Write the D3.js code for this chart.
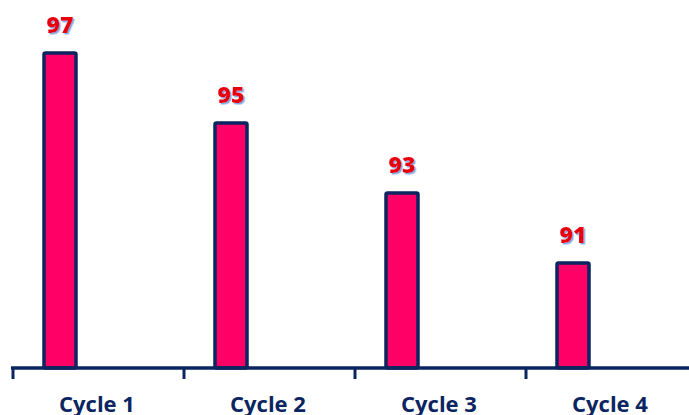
<!DOCTYPE html>
<html>
<head>
<meta charset="utf-8">
<script src="https://cdn.jsdelivr.net/npm/d3@7"></script>
<style>
  body { margin: 0; background: #fff; }
  svg { display: block; }
</style>
</head>
<body>
<svg id="chart" width="689" height="415"></svg>
<script>
const categories = ['Cycle 1', 'Cycle 2', 'Cycle 3', 'Cycle 4'];
const values = [97, 95, 93, 91];

const svg = d3.select('#chart');
const navy = '#0b2560';

const x = d3.scaleBand()
  .domain(categories)
  .range([12, 696])
  .paddingInner(0)
  .paddingOuter(0);

const y = d3.scaleLinear()
  .domain([88, 98])
  .range([368, 18]);

const barW = 32;
const barOff = 32;

// shadow filter for value labels
const defs = svg.append('defs');
const f = defs.append('filter').attr('id', 'shadow');
f.append('feDropShadow')
  .attr('dx', 1.5).attr('dy', 1.5).attr('stdDeviation', 0.6)
  .attr('flood-color', '#6fa0e0').attr('flood-opacity', 0.9);

svg.selectAll('rect.bar')
  .data(values)
  .join('rect')
  .attr('class', 'bar')
  .attr('x', (d, i) => x(categories[i]) + barOff)
  .attr('y', d => y(d))
  .attr('width', barW)
  .attr('height', d => y(88) - y(d))
  .attr('rx', 1.5)
  .attr('fill', '#ff0066')
  .attr('stroke', navy)
  .attr('stroke-width', 3.5);

svg.selectAll('text.val')
  .data(values)
  .join('text')
  .attr('class', 'val')
  .attr('x', (d, i) => x(categories[i]) + barOff + barW / 2)
  .attr('y', d => y(d) - 20)
  .attr('text-anchor', 'middle')
  .attr('font-family', 'Open Sans, sans-serif')
  .attr('font-weight', 800)
  .attr('font-size', 23)
  .attr('fill', '#e8000b')
  .attr('filter', 'url(#shadow)')
  .text(d => d);

// x axis
svg.append('line')
  .attr('x1', 11).attr('x2', 689)
  .attr('y1', y(88)).attr('y2', y(88))
  .attr('stroke', navy).attr('stroke-width', 3.5);

svg.selectAll('line.tick')
  .data(categories)
  .join('line')
  .attr('class', 'tick')
  .attr('x1', d => x(d) + 1).attr('x2', d => x(d) + 1)
  .attr('y1', y(88)).attr('y2', y(88) + 11)
  .attr('stroke', navy).attr('stroke-width', 3);

svg.selectAll('text.cat')
  .data(categories)
  .join('text')
  .attr('class', 'cat')
  .attr('x', d => x(d) + x.bandwidth() / 2 - 0.5)
  .attr('y', 412)
  .attr('text-anchor', 'middle')
  .attr('font-family', 'Open Sans, sans-serif')
  .attr('font-weight', 700)
  .attr('font-size', 22)
  .attr('fill', navy)
  .text(d => d);
</script>
</body>
</html>
